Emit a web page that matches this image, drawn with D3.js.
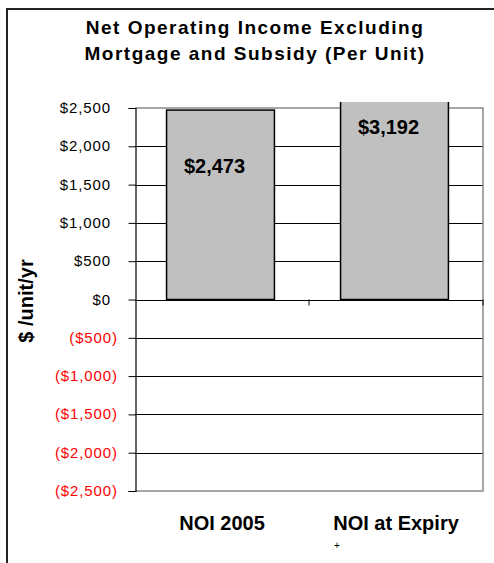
<!DOCTYPE html>
<html>
<head>
<meta charset="utf-8">
<script src="https://cdn.jsdelivr.net/npm/d3@7"></script>
<style>
  html, body { margin: 0; padding: 0; background: #fff; }
  svg { display: block; font-family: "Liberation Sans", Arial, sans-serif; }
</style>
</head>
<body>
<svg id="chart" width="494" height="563"></svg>
<script>
const titleLines = ["Net Operating Income Excluding", "Mortgage and Subsidy (Per Unit)"];
const categories = ["NOI 2005", "NOI at Expiry"];
const values = [2473, 3192];
const valueLabels = ["$2,473", "$3,192"];
const tickValues = [2500, 2000, 1500, 1000, 500, 0, -500, -1000, -1500, -2000, -2500];
const tickLabels = ["$2,500", "$2,000", "$1,500", "$1,000", "$500", "$0",
                    "($500)", "($1,000)", "($1,500)", "($2,000)", "($2,500)"];
const yTitle = "$ /unit/yr";

const svg = d3.select("#chart");
const plot = { left: 135, right: 483, top: 108, bottom: 491 };

// outer frame
svg.append("rect").attr("x", 7).attr("y", 9).attr("width", 620).attr("height", 620)
  .attr("fill", "none").attr("stroke", "#222").attr("stroke-width", 2);

// title
svg.append("g").selectAll("text").data(titleLines).join("text")
  .attr("x", 255).attr("y", (d, i) => 34 + i * 26)
  .attr("text-anchor", "middle").attr("font-weight", "bold")
  .attr("font-size", 19).attr("letter-spacing", 1.5).attr("fill", "#000")
  .text(d => d);

const y = d3.scaleLinear().domain([-2500, 2500]).range([plot.bottom, plot.top]);
const x = d3.scaleBand().domain(categories).range([plot.left, plot.right]).padding(0);
const barW = x.bandwidth() * 0.62;

// gridlines
svg.append("g").selectAll("line").data(tickValues.filter(v => v !== 2500 && v !== -2500)).join("line")
  .attr("x1", plot.left).attr("x2", plot.right)
  .attr("y1", d => Math.round(y(d)) + 0.5).attr("y2", d => Math.round(y(d)) + 0.5)
  .attr("stroke", "#000").attr("stroke-width", 1);

// plot border (top, right, bottom)
const bd = svg.append("g").attr("stroke", "#8a8a8a").attr("stroke-width", 1.5).attr("fill", "none");
bd.append("path").attr("d",
  `M${plot.left},${y(2500)}H${plot.right}V${y(-2500)}H${plot.left}`);

// clip for bars exceeding the scale
svg.append("defs").append("clipPath").attr("id", "clip")
  .append("rect").attr("x", plot.left).attr("y", plot.top - 6)
  .attr("width", plot.right - plot.left).attr("height", plot.bottom - plot.top + 6);

// bars
svg.append("g").attr("clip-path", "url(#clip)").selectAll("rect").data(values).join("rect")
  .attr("x", (d, i) => x(categories[i]) + (x.bandwidth() - barW) / 2 - 1.5)
  .attr("width", barW)
  .attr("y", d => y(Math.max(d, 0)))
  .attr("height", d => Math.abs(y(d) - y(0)))
  .attr("fill", "#c0c0c0").attr("stroke", "#000").attr("stroke-width", 1.5);

// value labels
svg.append("g").selectAll("text").data(values).join("text")
  .attr("x", (d, i) => x(categories[i]) + x.bandwidth() / 2 - 7.5)
  .attr("y", d => d > 2500 ? plot.top + 26 : y(d) + 63)
  .attr("text-anchor", "middle").attr("font-weight", "bold").attr("font-size", 20)
  .attr("fill", "#000")
  .text((d, i) => valueLabels[i]);

// y axis
const yAxis = d3.axisLeft(y).tickValues(tickValues).tickSize(7).tickPadding(0)
  .tickFormat(() => "");
const ya = svg.append("g").attr("transform", `translate(${plot.left + 0.5},0)`).call(yAxis);
ya.select(".domain").attr("stroke", "#000").attr("stroke-width", 1.2);
ya.selectAll(".tick line").attr("stroke", "#000");
ya.selectAll(".tick text").remove();

svg.append("g").selectAll("text").data(tickValues).join("text")
  .attr("x", d => d < 0 ? 118 : 111)
  .attr("y", d => y(d) + 5)
  .attr("text-anchor", "end").attr("font-size", 15).attr("letter-spacing", 0.9)
  .attr("fill", d => d < 0 ? "#ff0000" : "#000")
  .text((d, i) => tickLabels[i]);

// category ticks on zero line
svg.append("g").selectAll("line").data(categories.slice(1).concat(["__end"])).join("line")
  .attr("x1", d => d === "__end" ? plot.right : x(d))
  .attr("x2", d => d === "__end" ? plot.right : x(d))
  .attr("y1", y(0)).attr("y2", y(0) + 6)
  .attr("stroke", "#000").attr("stroke-width", 1);

// category labels
svg.append("g").selectAll("text").data(categories).join("text")
  .attr("x", d => x(d) + x.bandwidth() / 2)
  .attr("y", 530)
  .attr("text-anchor", "middle").attr("font-weight", "bold").attr("font-size", 20)
  .attr("fill", "#000")
  .text(d => d);

// small mark
svg.append("text").attr("x", 337).attr("y", 549).attr("text-anchor", "middle")
  .attr("font-size", 10).attr("fill", "#000").text("+");

// y axis title
svg.append("text")
  .attr("transform", `translate(33,301) rotate(-90)`)
  .attr("text-anchor", "middle").attr("font-weight", "bold").attr("font-size", 20)
  .attr("fill", "#000").text(yTitle);
</script>
</body>
</html>
